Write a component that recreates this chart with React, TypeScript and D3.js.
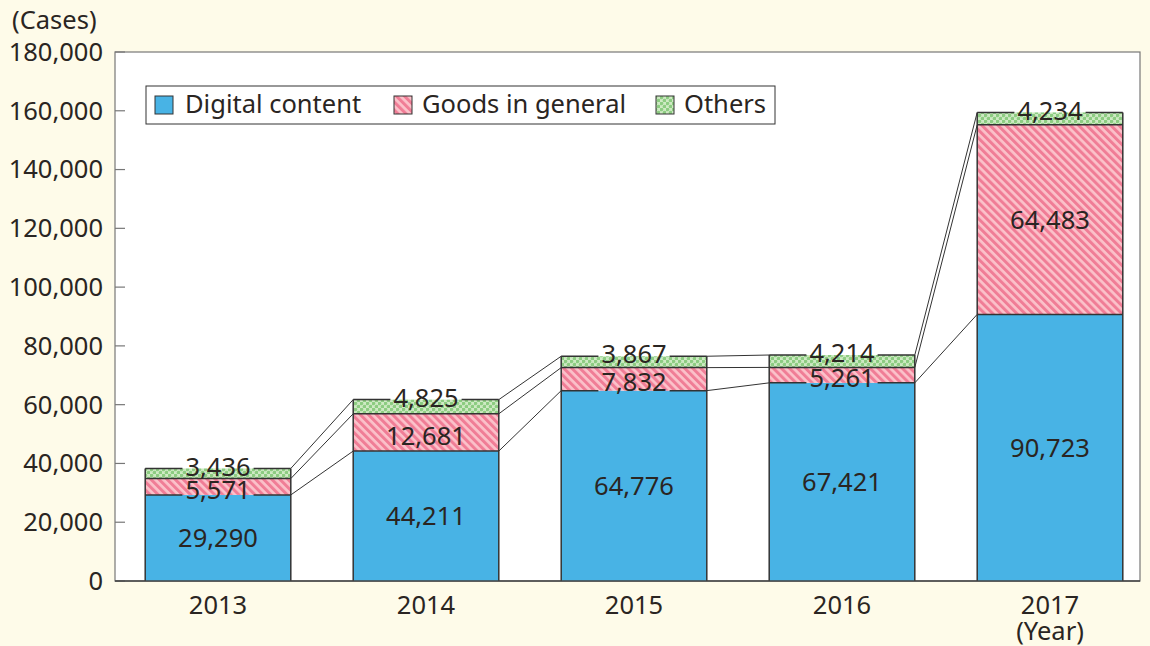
import React from "react";
import { scaleLinear, scaleBand, stack } from "d3";

const years = ["2013", "2014", "2015", "2016", "2017"];
const digital = [29290, 44211, 64776, 67421, 90723];
const goods = [5571, 12681, 7832, 5261, 64483];
const others = [3436, 4825, 3867, 4214, 4234];
const yTicks = [0, 20000, 40000, 60000, 80000, 100000, 120000, 140000, 160000, 180000];
const seriesKeys = ["digital", "goods", "others"];
const seriesNames = ["Digital content", "Goods in general", "Others"];

const W = 1150;
const H = 646;
const plot = { left: 115, right: 1140, top: 52, bottom: 581 };
const FONT = "'Noto Sans', 'DejaVu Sans', sans-serif";
const FS = 25.5;
const INK = "#2a2522";

const fills = ["#48b3e5", "url(#hatchPink)", "url(#dotGreen)"];

const fmt = (v: number) => v.toLocaleString("en-US");
// rough text width for Noto Sans digits/commas
const textW = (s: string) =>
  s.split("").reduce((a, c) => a + (c === "," ? 0.27 : 0.572), 0) * FS;

export default function App() {
  const rows = years.map((y, i) => ({
    year: y,
    digital: digital[i],
    goods: goods[i],
    others: others[i],
  }));
  const layers = stack<any>().keys(seriesKeys)(rows);

  const x = scaleBand<string>()
    .domain(years)
    .range([114, 1154])
    .paddingInner(0.3)
    .paddingOuter(0.15);
  const y = scaleLinear().domain([0, 180000]).range([plot.bottom, plot.top]);
  const bw = x.bandwidth();

  // label positions
  const labels: { x: number; y: number; text: string }[] = [];
  layers.forEach((layer, li) => {
    layer.forEach((d, i) => {
      const cx = (x(years[i]) as number) + bw / 2;
      const top = y(d[1]);
      const bot = y(d[0]);
      let cy = (top + bot) / 2;
      if (li === 1 && bot - top < 40) cy += 3;
      if (li === 2) cy = top - 2;
      labels.push({ x: cx, y: cy, text: fmt(d[1] - d[0]) });
    });
  });

  // horizontal boundary segments with gaps where labels sit on them
  const hLines: { x1: number; x2: number; y: number }[] = [];
  layers.forEach((layer) => {
    layer.forEach((d, i) => {
      const x0 = x(years[i]) as number;
      const yy = y(d[1]);
      const gaps = labels
        .filter((l) => Math.abs(l.x - (x0 + bw / 2)) < 1 && Math.abs(l.y - yy) < FS * 0.42)
        .map((l) => [l.x - textW(l.text) / 2 - 3, l.x + textW(l.text) / 2 + 3])
        .sort((a, b) => a[0] - b[0]);
      let start = x0;
      gaps.forEach(([g0, g1]) => {
        if (g0 > start) hLines.push({ x1: start, x2: g0, y: yy });
        start = Math.max(start, g1);
      });
      if (start < x0 + bw) hLines.push({ x1: start, x2: x0 + bw, y: yy });
    });
  });

  const legendItems = [
    { sx: 155, tx: 185 },
    { sx: 394, tx: 422 },
    { sx: 656, tx: 684 },
  ];

  return (
    <svg width={W} height={H} style={{ position: "absolute", left: 0, top: 0 }}>
      <defs>
        <pattern
          id="hatchPink"
          width="5.7"
          height="5.7"
          patternUnits="userSpaceOnUse"
          patternTransform="rotate(-45)"
        >
          <rect width="5.7" height="5.7" fill="#fbc2ca" />
          <rect width="3" height="5.7" fill="#f07d96" />
        </pattern>
        <pattern id="dotGreen" width="6" height="6" patternUnits="userSpaceOnUse">
          <rect width="6" height="6" fill="#cfeac4" />
          <circle cx="1.5" cy="1.5" r="1.8" fill="#8ccc81" />
          <circle cx="4.5" cy="4.5" r="1.8" fill="#8ccc81" />
        </pattern>
      </defs>
      <rect width={W} height={H} fill="#fefbe9" />
      <rect
        x={plot.left}
        y={plot.top}
        width={plot.right - plot.left}
        height={plot.bottom - plot.top}
        fill="#fff"
        stroke="#777"
        strokeWidth={1.2}
      />

      {/* y axis */}
      {yTicks.map((t) => (
        <g key={t}>
          <line x1={plot.left} x2={plot.left + 10} y1={y(t)} y2={y(t)} stroke="#777" strokeWidth={1.2} />
          <text
            x={103}
            y={y(t)}
            dy="0.35em"
            textAnchor="end"
            fontFamily={FONT}
            fontSize={FS}
            fill={INK}
          >
            {fmt(t)}
          </text>
        </g>
      ))}
      <text x={12} y={29} fontFamily={FONT} fontSize={FS} fill={INK}>
        (Cases)
      </text>

      {/* connectors */}
      {layers.map((layer, li) =>
        layer.slice(0, -1).map((d, i) => (
          <line
            key={`c${li}-${i}`}
            x1={(x(years[i]) as number) + bw}
            y1={y(d[1])}
            x2={x(years[i + 1]) as number}
            y2={y(layer[i + 1][1])}
            stroke="#333"
            strokeWidth={1}
          />
        ))
      )}

      {/* bars */}
      {layers.map((layer, li) =>
        layer.map((d, i) => (
          <rect
            key={`b${li}-${i}`}
            x={x(years[i])}
            y={y(d[1])}
            width={bw}
            height={y(d[0]) - y(d[1])}
            fill={fills[li]}
          />
        ))
      )}
      {years.map((yr, i) => (
        <g key={`s${yr}`}>
          <line
            x1={x(yr)}
            x2={x(yr)}
            y1={y(0)}
            y2={y(layers[2][i][1])}
            stroke="#333"
            strokeWidth={1.5}
          />
          <line
            x1={(x(yr) as number) + bw}
            x2={(x(yr) as number) + bw}
            y1={y(0)}
            y2={y(layers[2][i][1])}
            stroke="#333"
            strokeWidth={1.5}
          />
        </g>
      ))}
      {hLines.map((l, i) => (
        <line key={`h${i}`} x1={l.x1} x2={l.x2} y1={l.y} y2={l.y} stroke="#333" strokeWidth={1.5} />
      ))}

      {/* x axis line */}
      <line x1={plot.left} x2={plot.right} y1={plot.bottom} y2={plot.bottom} stroke="#444" strokeWidth={1.5} />
      {years.map((yr) => (
        <text
          key={`x${yr}`}
          x={(x(yr) as number) + bw / 2}
          y={614}
          textAnchor="middle"
          fontFamily={FONT}
          fontSize={FS}
          fill={INK}
        >
          {yr}
        </text>
      ))}
      <text
        x={(x("2017") as number) + bw / 2}
        y={640}
        textAnchor="middle"
        fontFamily={FONT}
        fontSize={FS}
        fill={INK}
      >
        (Year)
      </text>

      {/* value labels */}
      {labels.map((l, i) => (
        <text
          key={`l${i}`}
          x={l.x}
          y={l.y}
          dy="0.36em"
          textAnchor="middle"
          fontFamily={FONT}
          fontSize={FS}
          fill={INK}
        >
          {l.text}
        </text>
      ))}

      {/* legend */}
      <rect x={146} y={86} width={629} height={38} fill="#fff" stroke="#333" strokeWidth={1} />
      {legendItems.map((it, i) => (
        <g key={`lg${i}`}>
          <rect x={it.sx} y={96} width={18} height={18} fill={fills[i]} stroke="#333" strokeWidth={1} />
          <text x={it.tx} y={104} dy="0.36em" fontFamily={FONT} fontSize={FS} fill={INK}>
            {seriesNames[i]}
          </text>
        </g>
      ))}
    </svg>
  );
}
